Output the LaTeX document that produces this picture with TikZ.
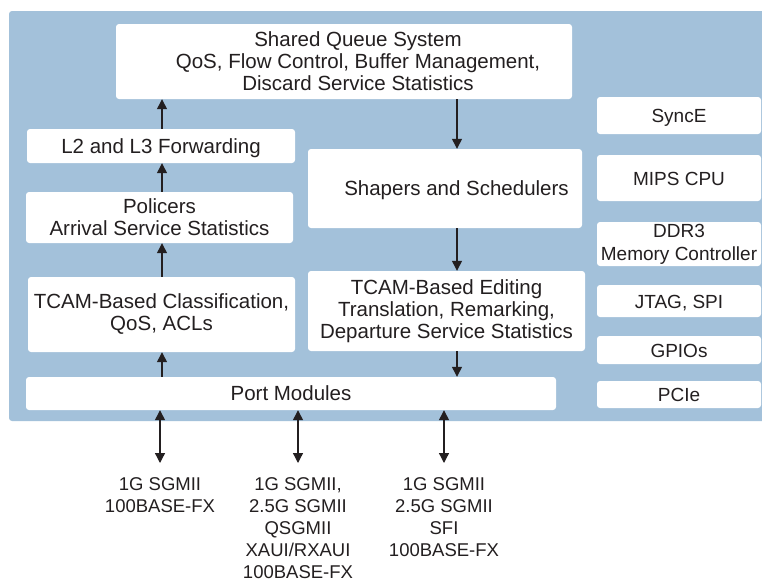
\documentclass[tikz,border=0pt]{standalone}
\usepackage{fontspec}
\setmainfont{Liberation Sans}
\usetikzlibrary{arrows.meta}
\definecolor{panel}{RGB}{163,193,218}
\definecolor{ink}{RGB}{35,31,32}

\begin{document}
\begin{tikzpicture}[x=1pt,y=-1pt,
  block/.style={fill=white, rounded corners=3pt, inner sep=0pt, align=center,
    text=ink, font=\fontsize{20.5}{22}\selectfont},
  oneline/.style={text height=14.7pt, text depth=0pt},
  side/.style={block, minimum width=164, font=\fontsize{19}{23}\selectfont},
  iface/.style={anchor=north, inner sep=0pt, align=center, text=ink,
    font=\fontsize{18.5}{22}\selectfont},
  flow/.style={draw=ink, line width=1.3pt, -{Triangle[width=10pt,length=10pt]}},
  both/.style={flow, {Triangle[width=10pt,length=10pt]}-{Triangle[width=10pt,length=10pt]}}]
  \useasboundingbox (0,0) rectangle (762,581);
  \fill[panel, rounded corners=3pt] (9,11) rectangle (768,421);

  % switch core
  \node[block, minimum width=456, minimum height=75] (queue) at (344,61.5)
    {\hspace*{28pt}Shared Queue System\\\hspace*{28pt}QoS, Flow Control, Buffer Management,\\\hspace*{28pt}Discard Service Statistics};
  \node[block, oneline, minimum width=268, minimum height=34] (fwd) at (161,146) {L2 and L3 Forwarding};
  \node[block, minimum width=267, minimum height=51] (police) at (159.5,217.5) {Policers\\Arrival Service Statistics};
  \node[block, minimum width=267, minimum height=75] (classify) at (161.5,314.5) {TCAM-Based Classification,\\QoS, ACLs};
  \node[block, oneline, minimum width=274, minimum height=79] (shaper) at (445,188.5) {\hspace*{23pt}Shapers and Schedulers};
  \node[block, minimum width=277, minimum height=80] (editing) at (446.5,311) {TCAM-Based Editing\\Translation, Remarking,\\Departure Service Statistics};
  \node[block, oneline, minimum width=530, minimum height=33] (ports) at (291,393.5) {Port Modules};

  % peripherals
  \node[side, oneline, minimum height=37] (synce) at (679,115.5) {SyncE};
  \node[side, oneline, minimum height=46] (mips) at (679,178) {MIPS CPU};
  \node[side, minimum height=44] (ddr) at (679,244) {DDR3\\Memory Controller};
  \node[side, oneline, minimum height=32] (jtag) at (679,301) {JTAG, SPI};
  \node[side, oneline, minimum height=28] (gpio) at (679,350) {GPIOs};
  \node[side, oneline, minimum height=27] (pcie) at (679,394.5) {PCIe};

  % interfaces
  \node[iface] (ifA) at (160,477) {1G SGMII\\100BASE-FX};
  \node[iface] (ifB) at (298,477) {1G SGMII,\\2.5G SGMII\\QSGMII\\XAUI/RXAUI\\100BASE-FX};
  \node[iface] (ifC) at (444,477) {1G SGMII\\2.5G SGMII\\SFI\\100BASE-FX};

  \coordinate (up) at (162,0);
  \coordinate (down) at (457,0);
  \draw[flow] (ports.north -| up) -- (classify.south -| up);
  \draw[flow] (classify.north -| up) -- (police.south -| up);
  \draw[flow] (police.north -| up) -- (fwd.south -| up);
  \draw[flow] (fwd.north -| up) -- (queue.south -| up);
  \draw[flow] (queue.south -| down) -- (shaper.north -| down);
  \draw[flow] (shaper.south -| down) -- (editing.north -| down);
  \draw[flow] (editing.south -| down) -- (ports.north -| down);
  \draw[both] (ports.south -| ifA) -- ([yshift=14pt]ifA.north);
  \draw[both] (ports.south -| ifB) -- ([yshift=14pt]ifB.north);
  \draw[both] (ports.south -| ifC) -- ([yshift=14pt]ifC.north);
\end{tikzpicture}
\end{document}
